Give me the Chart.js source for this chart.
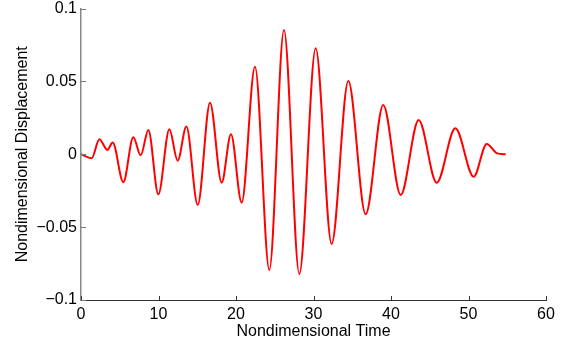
<!DOCTYPE html>
<html>
<head>
<meta charset="utf-8">
<script src="https://cdn.jsdelivr.net/npm/chart.js@4"></script>
<style>
  html,body{margin:0;padding:0;background:#fff;}
  #wrap{width:565px;height:343px;}
</style>
</head>
<body>
<div id="wrap"><canvas id="c"></canvas></div>
<script>
/* DATA: extrema */
const times = [0, 1.38, 2.37, 3.4, 4.09, 5.46, 6.75, 7.7, 8.69, 9.98, 11.4, 12.47, 13.6,
  15.06, 16.65, 18.15, 19.35, 20.73, 22.45, 24.3, 26.19, 28.17, 30.28, 32.34, 34.49,
  36.73, 39.0, 41.25, 43.57, 45.9, 48.3, 50.67, 52.35, 53.7, 54.8];
const disp = [0, -0.0027, 0.0103, 0.003, 0.008, -0.0192, 0.0117, -0.0007, 0.0167, -0.0275, 0.0172, -0.0044, 0.019,
  -0.0348, 0.0354, -0.0195, 0.0137, -0.0332, 0.0601, -0.0794, 0.0853, -0.0821, 0.0727, -0.0615, 0.0503,
  -0.0412, 0.0338, -0.0279, 0.0235, -0.0195, 0.0178, -0.0154, 0.0071, 0.0006, 0];
const xTicks = [0, 10, 20, 30, 40, 50, 60];
const yTicks = [-0.1, -0.05, 0, 0.05, 0.1];

const FONT = "'Liberation Sans', Arial, Helvetica, sans-serif";

/* inward tick marks, matlab style */
const inwardTicks = {
  id: "inwardTicks",
  afterDraw(chart){
    const ctx = chart.ctx, area = chart.chartArea;
    const x = chart.scales.x, y = chart.scales.y;
    ctx.save();
    ctx.lineWidth = 1;
    ctx.strokeStyle = "#333";
    xTicks.forEach(v=>{
      const px = Math.round(x.getPixelForValue(v)) + 0.5;
      ctx.beginPath(); ctx.moveTo(px, area.bottom); ctx.lineTo(px, area.bottom - 4); ctx.stroke();
    });
    ctx.strokeStyle = "#777";
    yTicks.forEach(v=>{
      const py = Math.round(y.getPixelForValue(v)) + 0.5;
      ctx.beginPath(); ctx.moveTo(area.left, py); ctx.lineTo(area.left + 5, py); ctx.stroke();
    });
    ctx.restore();
  }
};

const fmt = v => String(v).replace("-", "\u2212");

new Chart(document.getElementById("c"), {
  type: "line",
  data: {
    datasets: [{
      data: times.map((t,i)=>({x:t, y:disp[i]})),
      borderColor: "#ff0000",
      borderWidth: 2,
      pointRadius: 0,
      fill: false,
      cubicInterpolationMode: "monotone"
    }]
  },
  options: {
    responsive: true,
    maintainAspectRatio: false,
    animation: false,
    events: [],
    layout: { padding: { top: 8.5, right: 19, bottom: 0, left: 0 } },
    plugins: { legend: { display: false }, tooltip: { enabled: false } },
    scales: {
      x: {
        type: "linear", min: 0, max: 60,
        afterBuildTicks: s => { s.ticks = xTicks.map(v=>({value:v})); },
        afterFit: s => { s.height = 43; s.paddingLeft = 0; s.paddingRight = 0; },
        grid: { drawOnChartArea: false, drawTicks: false },
        border: { color: "#333", width: 1 },
        ticks: { color: "#000", font: { family: FONT, size: 16 }, padding: 5, maxRotation: 0, callback: v => fmt(v) },
        title: { display: true, text: "Nondimensional Time", color: "#000",
                 font: { family: FONT, size: 16 }, padding: { top: 0, bottom: 1.5 } }
      },
      y: {
        type: "linear", min: -0.1, max: 0.1,
        afterBuildTicks: s => { s.ticks = yTicks.map(v=>({value:v})); },
        afterFit: s => { s.width = 81; s.paddingTop = 0; s.paddingBottom = 0; },
        grid: { drawOnChartArea: false, drawTicks: false },
        border: { color: "#888", width: 1.5 },
        ticks: { color: "#000", font: { family: FONT, size: 16 }, padding: 4, callback: v => fmt(v) },
        title: { display: true, text: "Nondimensional Displacement", color: "#000",
                 font: { family: FONT, size: 16 }, padding: { top: 13, bottom: 0 } }
      }
    }
  },
  plugins: [inwardTicks]
});
</script>
</body>
</html>
